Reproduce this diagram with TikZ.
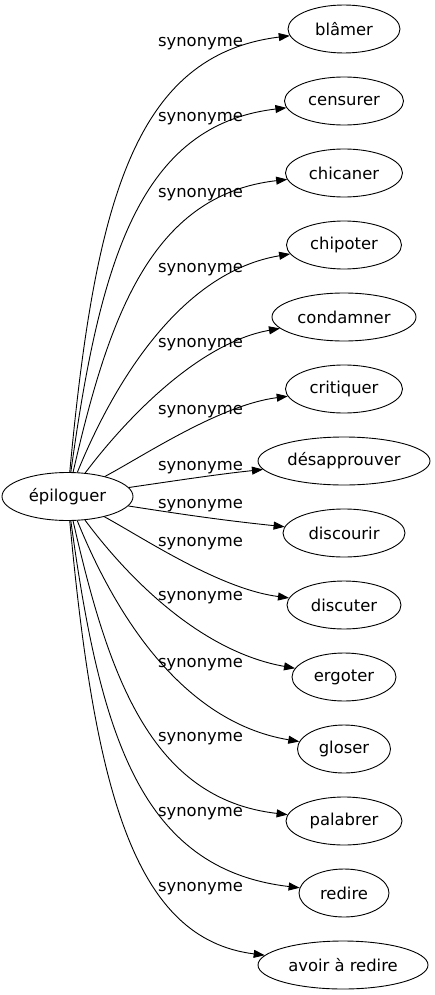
\documentclass[tikz,border=0pt]{standalone}
\usepackage{fontspec}
\setmainfont{DejaVu Sans}
\usetikzlibrary{shapes.geometric,arrows.meta}
\begin{document}
\begin{tikzpicture}[x=1pt,y=-1pt,
  word/.style={draw,ellipse,inner sep=0pt,minimum height=48pt,line width=0.9pt,font=\fontsize{16.4}{18}\selectfont},
  lbl/.style={inner sep=0pt,font=\fontsize{16.4}{18}\selectfont},
  edge/.style={line width=0.9pt,-{Triangle[length=11pt,width=8pt]}}]
\useasboundingbox (0,0) rectangle (434,995);
\node[word,minimum width=131pt] (src) at (67.5,496.5) {épiloguer};
\node[word,minimum width=112pt] (n1) at (344,29) {blâmer};
\node[word,minimum width=119pt] (n2) at (344,101) {censurer};
\node[word,minimum width=117pt] (n3) at (344,173) {chicaner};
\node[word,minimum width=115pt] (n4) at (344,245) {chipoter};
\node[word,minimum width=144pt] (n5) at (344,317) {condamner};
\node[word,minimum width=117pt] (n6) at (344,389) {critiquer};
\node[word,minimum width=172pt] (n7) at (344,461) {désapprouver};
\node[word,minimum width=122pt] (n8) at (344,533) {discourir};
\node[word,minimum width=114pt] (n9) at (344,605) {discuter};
\node[word,minimum width=104pt] (n10) at (344,677) {ergoter};
\node[word,minimum width=93pt] (n11) at (344,749) {gloser};
\node[word,minimum width=116pt] (n12) at (344,821) {palabrer};
\node[word,minimum width=90pt] (n13) at (344,893) {redire};
\node[word,minimum width=170pt] (n14) at (343,965) {avoir à redire};
\draw[edge] (src) .. controls (95,200) and (135,55) .. (n1);
\draw[edge] (src) .. controls (100,260) and (140,125) .. (n2);
\draw[edge] (src) .. controls (108,320) and (150,195) .. (n3);
\draw[edge] (src) .. controls (115,380) and (182,272) .. (n4);
\draw[edge] (src) .. controls (125,420) and (198,343) .. (n5);
\draw[edge] (src) .. controls (145,455) and (220,405) .. (n6);
\draw[edge] (src) .. controls (180,480) and (220,474) .. (n7);
\draw[edge] (src) .. controls (180,514) and (220,520) .. (n8);
\draw[edge] (src) .. controls (145,539) and (220,589) .. (n9);
\draw[edge] (src) .. controls (125,574) and (198,651) .. (n10);
\draw[edge] (src) .. controls (115,614) and (182,722) .. (n11);
\draw[edge] (src) .. controls (108,674) and (150,799) .. (n12);
\draw[edge] (src) .. controls (100,734) and (140,869) .. (n13);
\draw[edge] (src) .. controls (95,794) and (135,939) .. (n14);
\node[lbl] (l1) at (200.5,44) {synonyme};
\node[lbl] (l2) at (200.5,119) {synonyme};
\node[lbl] (l3) at (200.5,195) {synonyme};
\node[lbl] (l4) at (200.5,270) {synonyme};
\node[lbl] (l5) at (200.5,345) {synonyme};
\node[lbl] (l6) at (200.5,412) {synonyme};
\node[lbl] (l7) at (200.5,468) {synonyme};
\node[lbl] (l8) at (200.5,506) {synonyme};
\node[lbl] (l9) at (200.5,544) {synonyme};
\node[lbl] (l10) at (200.5,598) {synonyme};
\node[lbl] (l11) at (200.5,665) {synonyme};
\node[lbl] (l12) at (200.5,739) {synonyme};
\node[lbl] (l13) at (200.5,814) {synonyme};
\node[lbl] (l14) at (200.5,889) {synonyme};
\end{tikzpicture}
\end{document}
